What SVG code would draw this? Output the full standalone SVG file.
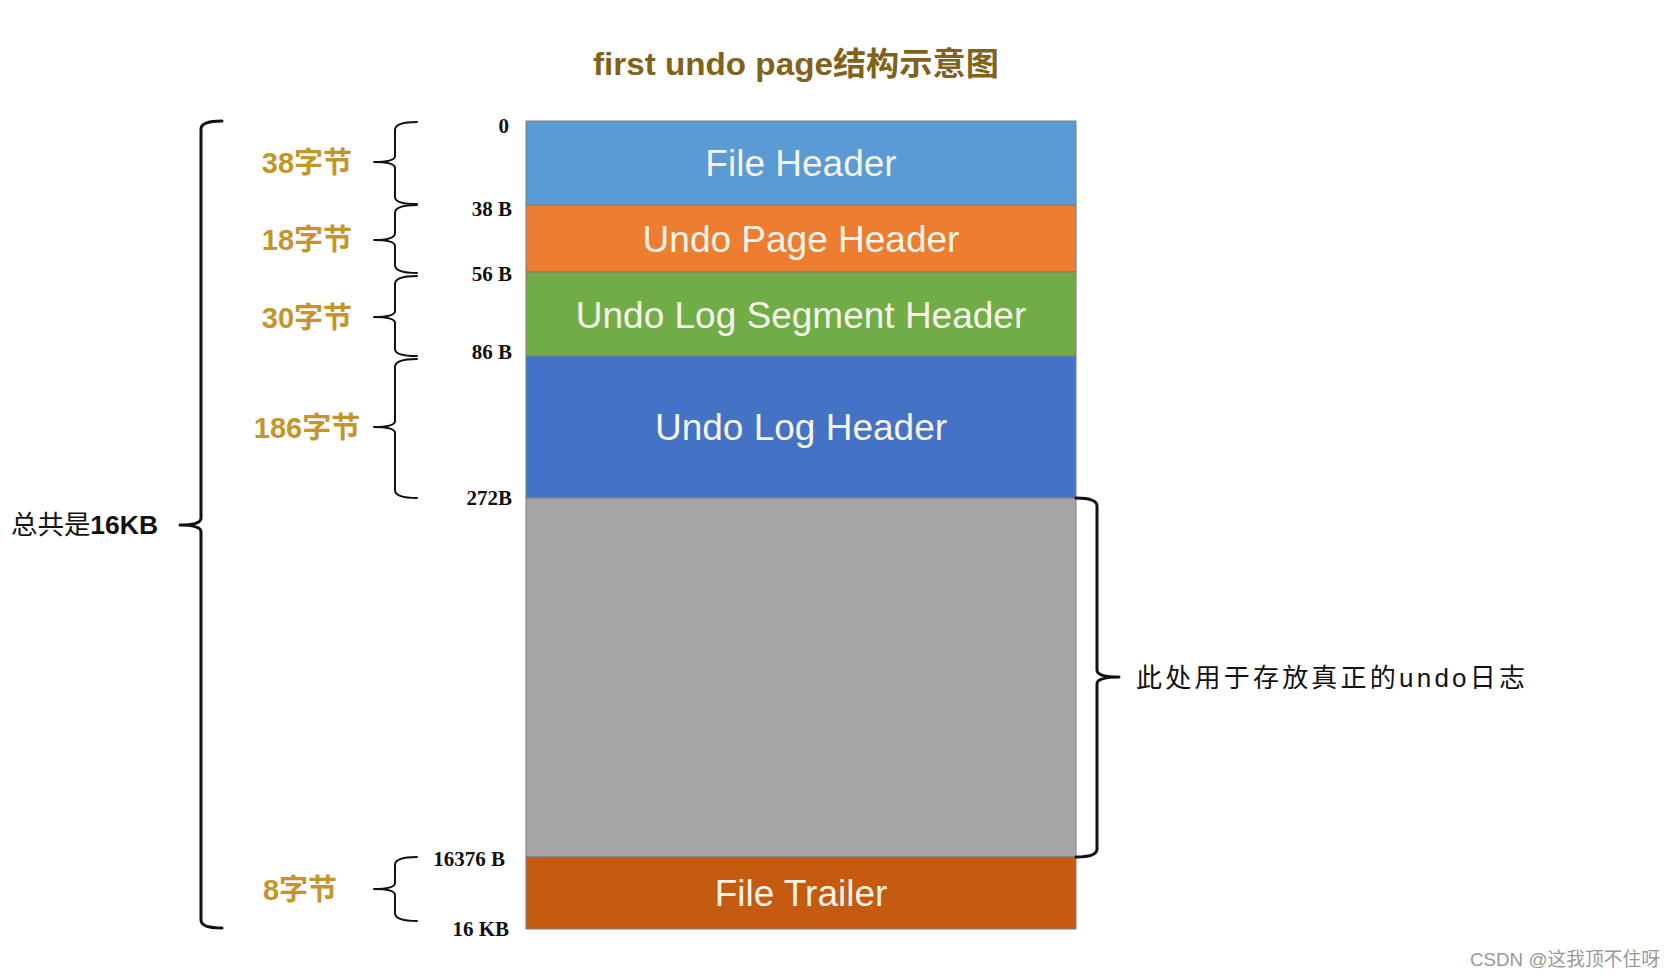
<svg xmlns="http://www.w3.org/2000/svg" width="1676" height="978" viewBox="0 0 1676 978">
<style>
.blk{stroke:#7d7d7d;stroke-width:1}
.bt{font-family:"Liberation Sans","Noto Sans CJK SC",sans-serif;font-size:37px;fill:#f7f4ea;text-anchor:middle}
.off{font-family:"Liberation Serif",serif;font-weight:bold;font-size:21px;fill:#111;text-anchor:end}
.sz{font-family:"Liberation Sans","Noto Sans CJK SC",sans-serif;font-size:29px;font-weight:bold;fill:#c3962c;text-anchor:middle}
.br{fill:none;stroke:#111;stroke-width:2;stroke-linecap:round;stroke-linejoin:round}
.bb{fill:none;stroke:#111;stroke-width:3;stroke-linecap:round;stroke-linejoin:round}
.note{font-family:"Liberation Sans","Noto Sans CJK SC",sans-serif;font-size:26px;fill:#111}
</style>
<rect width="1676" height="978" fill="#ffffff"/>
<g id="title">
<text x="796" y="75" text-anchor="middle" font-family="Liberation Sans,'Noto Sans CJK SC',sans-serif" font-weight="bold" font-size="32" fill="#80621a" textLength="406" lengthAdjust="spacingAndGlyphs">first undo page结构示意图</text>
</g>
<g id="file-header"><rect class="blk" x="526" y="121" width="550" height="84" fill="#5b9bd5"/><text class="bt" x="801" y="176">File Header</text></g>
<g id="undo-page-header"><rect class="blk" x="526" y="205" width="550" height="67" fill="#ed7d31"/><text class="bt" x="801" y="252">Undo Page Header</text></g>
<g id="undo-log-segment-header"><rect class="blk" x="526" y="272" width="550" height="84" fill="#70ad47"/><text class="bt" x="801" y="328">Undo Log Segment Header</text></g>
<g id="undo-log-header"><rect class="blk" x="526" y="356" width="550" height="142" fill="#4472c4"/><text class="bt" x="801" y="440">Undo Log Header</text></g>
<g id="undo-log-space"><rect class="blk" x="526" y="498" width="550" height="359" fill="#a5a5a5"/></g>
<g id="file-trailer"><rect class="blk" x="526" y="857" width="550" height="72" fill="#c55a11"/><text class="bt" x="801" y="906">File Trailer</text></g>
<g id="offsets">
<text class="off" x="509" y="133">0</text>
<text class="off" x="512" y="216">38 B</text>
<text class="off" x="512" y="281">56 B</text>
<text class="off" x="512" y="359">86 B</text>
<text class="off" x="512" y="505">272B</text>
<text class="off" x="505" y="866">16376 B</text>
<text class="off" x="509" y="936">16 KB</text>
</g>
<g id="size-labels">
<text class="sz" x="307" y="173">38字节</text>
<text class="sz" x="307" y="250">18字节</text>
<text class="sz" x="307" y="328">30字节</text>
<text class="sz" x="307" y="438">186字节</text>
<text class="sz" x="300" y="900">8字节</text>
</g>
<g id="total-label"><text class="note" x="11" y="534" textLength="147" lengthAdjust="spacingAndGlyphs">总共是<tspan font-weight="bold">16KB</tspan></text></g>
<g id="space-label"><text class="note" x="1136" y="687" textLength="389" lengthAdjust="spacing">此处用于存放真正的undo日志</text></g>
<g id="connectors">
<path class="br" d="M417,122 Q395,122 395,130 L395,156 Q395,162 374,162 Q395,162 395,168 L395,197 Q395,204 417,204"/>
<path class="br" d="M417,205 Q395,205 395,213 L395,233 Q395,240 374,240 Q395,240 395,246 L395,265 Q395,273 417,273"/>
<path class="br" d="M417,276 Q395,276 395,284 L395,311 Q395,317 374,317 Q395,317 395,323 L395,349 Q395,356 417,356"/>
<path class="br" d="M417,359 Q395,359 395,367 L395,421 Q395,427 374,427 Q395,427 395,433 L395,490 Q395,498 417,498"/>
<path class="br" d="M417,857 Q395,857 395,865 L395,883 Q395,889 374,889 Q395,889 395,895 L395,913 Q395,921 417,921"/>
<path class="bb" d="M222,121 Q201,121 201,129 L201,518 Q201,525 180,525 Q201,525 201,532 L201,920 Q201,928 222,928"/>
<path class="bb" d="M1076,498 Q1097,498 1097,506 L1097,670 Q1097,677 1119,677 Q1097,677 1097,684 L1097,849 Q1097,857 1076,857"/>
</g>
<g id="watermark"><text x="1470" y="966" font-family="Liberation Sans,'Noto Sans CJK SC',sans-serif" font-size="19" fill="#999999" textLength="190" lengthAdjust="spacingAndGlyphs">CSDN @这我顶不住呀</text></g>
</svg>
